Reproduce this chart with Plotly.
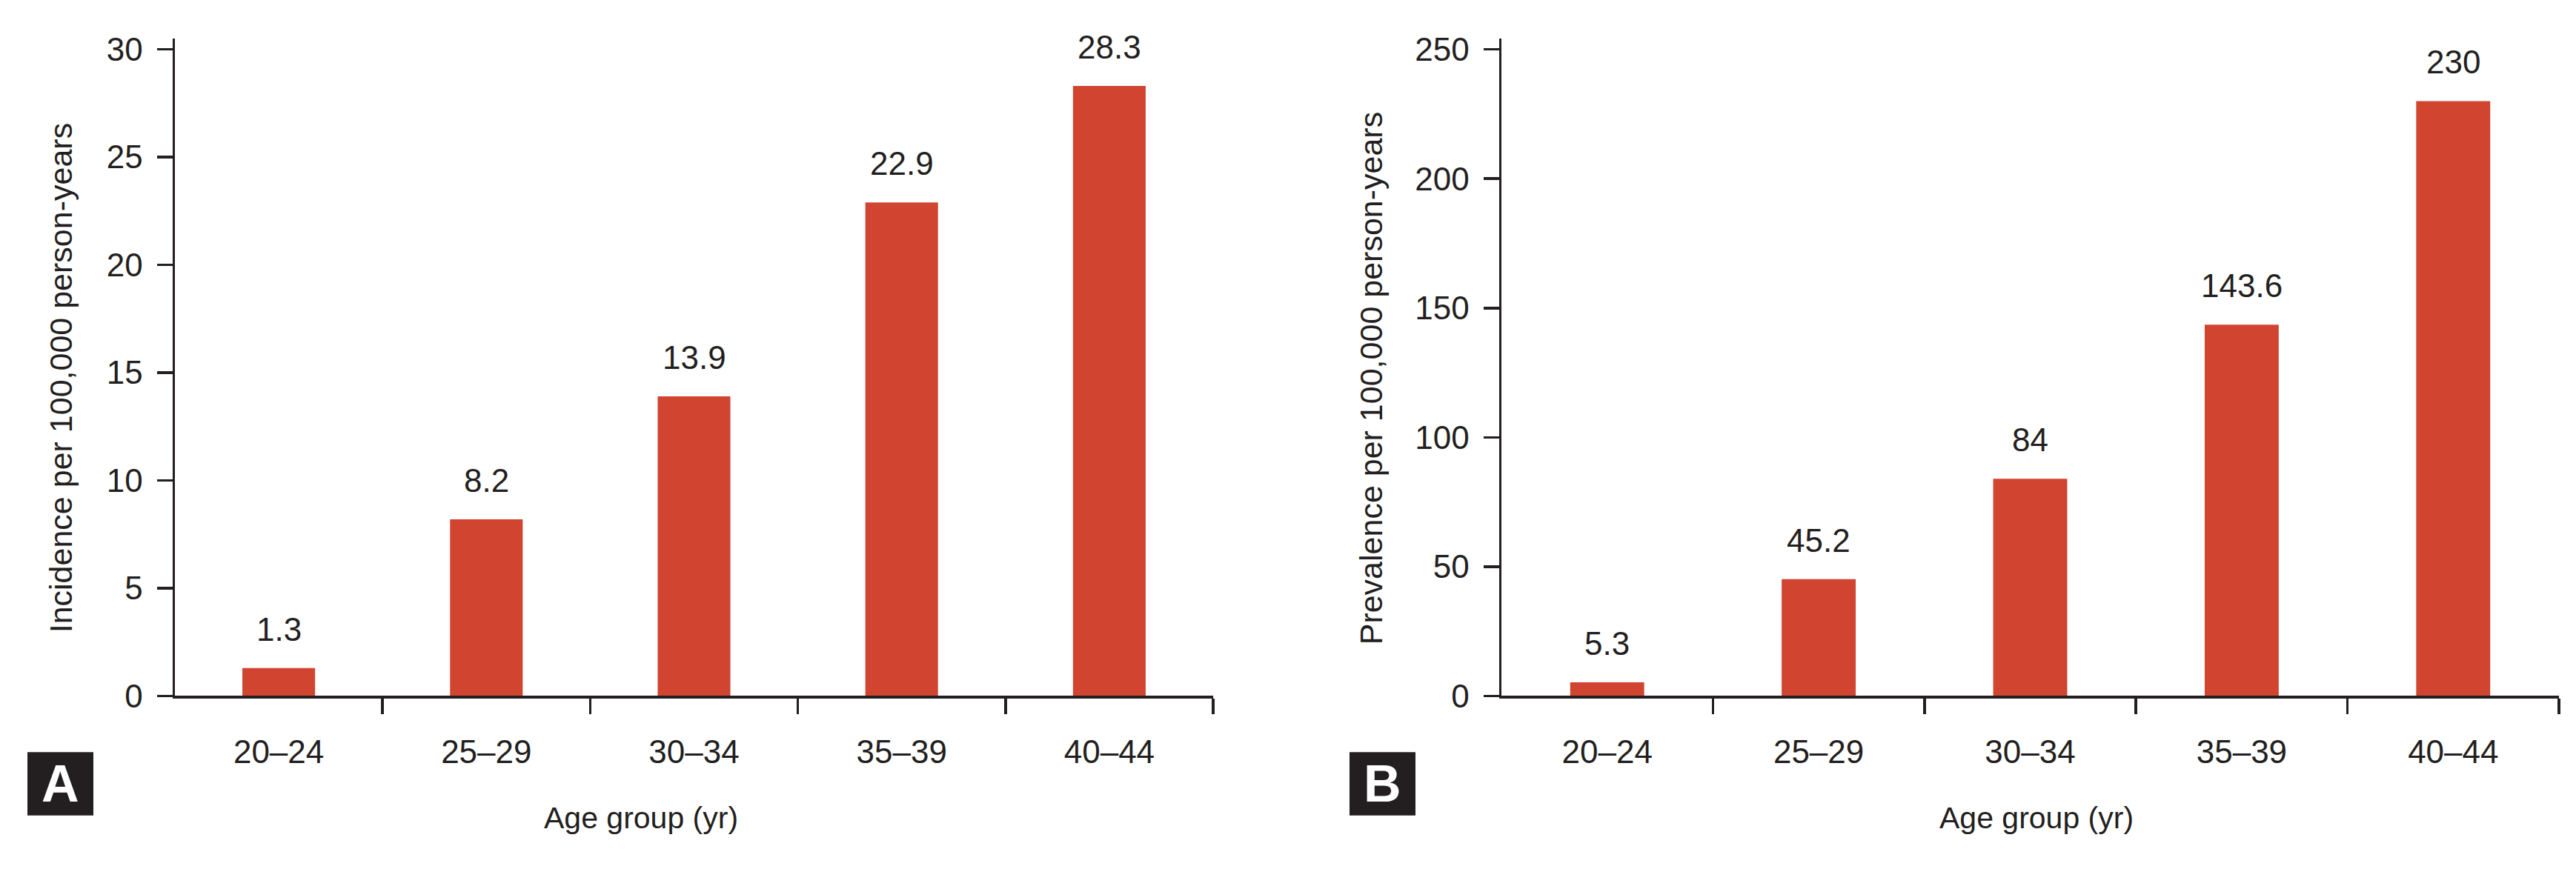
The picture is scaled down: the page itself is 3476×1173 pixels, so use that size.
import plotly.graph_objects as go

# ---- data ----
age_groups = ["20\u201324", "25\u201329", "30\u201334", "35\u201339", "40\u201344"]
incidence = [1.3, 8.2, 13.9, 22.9, 28.3]
prevalence = [5.3, 45.2, 84, 143.6, 230]
inc_ticks = [0, 5, 10, 15, 20, 25, 30]
prev_ticks = [0, 50, 100, 150, 200, 250]
inc_title = "Incidence per 100,000 person-years"
prev_title = "Prevalence per 100,000 person-years"
x_title = "Age group (yr)"
panel_letters = ["A", "B"]

# ---- style ----
W, H = 3476, 1173
BAR = "#D04430"
INK = "#231F20"
TICKFONT = dict(family="Liberation Sans, Arial, sans-serif", size=44, color=INK)
YTITLEFONT = dict(family="Liberation Sans, Arial, sans-serif", size=43, color=INK)
XTITLEFONT = dict(family="Liberation Sans, Arial, sans-serif", size=41, color=INK)
LW = 3.5

xpos = list(range(len(age_groups)))
boundaries = [i + 0.5 for i in xpos]

fig = go.Figure()
fig.add_trace(go.Bar(x=xpos, y=incidence, width=0.35, marker=dict(color=BAR, line=dict(width=0)),
                     xaxis="x", yaxis="y", hoverinfo="skip"))
fig.add_trace(go.Bar(x=xpos, y=prevalence, width=0.35, marker=dict(color=BAR, line=dict(width=0)),
                     xaxis="x2", yaxis="y2", hoverinfo="skip"))

def px_x(p):
    return p / W

def px_y(p):
    return 1 - p / H

ydom = [px_y(949), px_y(35)]

def xaxis_cfg(domain, anchor):
    return dict(domain=domain, anchor=anchor, range=[-0.5, 4.5], showgrid=False, zeroline=False,
                showline=True, linewidth=LW, linecolor=INK,
                tickmode="array", tickvals=xpos, ticktext=age_groups,
                ticks="outside", ticklen=34, tickcolor="rgba(0,0,0,0)", tickfont=TICKFONT,
                minor=dict(tickmode="array", tickvals=boundaries, ticks="outside", ticklen=21,
                           tickwidth=LW, tickcolor=INK, showgrid=False),
                fixedrange=True)

def yaxis_cfg(domain, anchor, rng, ticks):
    return dict(domain=domain, anchor=anchor, range=rng, showgrid=False, zeroline=False,
                showline=True, linewidth=LW, linecolor=INK,
                tickmode="array", tickvals=ticks, ticks="outside", ticklen=21, tickwidth=LW,
                tickcolor=INK, tickfont=TICKFONT, ticklabelstandoff=10, fixedrange=True)

fig.update_layout(
    width=W, height=H,
    margin=dict(l=0, r=0, t=0, b=0),
    paper_bgcolor="white", plot_bgcolor="white",
    showlegend=False,
    xaxis=xaxis_cfg([px_x(228), px_x(1629)], "y"),
    yaxis=yaxis_cfg(ydom, "x", [0, 30.5], inc_ticks),
    xaxis2=xaxis_cfg([px_x(2018), px_x(3445)], "y2"),
    yaxis2=yaxis_cfg(ydom, "x2", [0, 254.2], prev_ticks),
)

annotations = []
# value labels
for xa, ya, vals in (("x", "y", incidence), ("x2", "y2", prevalence)):
    for xi, v in zip(xpos, vals):
        annotations.append(dict(x=xi, y=v, xref=xa, yref=ya, text=f"{v:g}", showarrow=False,
                                yanchor="bottom", yshift=26, font=TICKFONT))

# y-axis titles
for cx, txt in ((74, inc_title), (1842, prev_title)):
    annotations.append(dict(x=px_x(cx), y=px_y(507), xref="paper", yref="paper", text=txt,
                            textangle=-90, showarrow=False, xanchor="center", yanchor="middle",
                            font=YTITLEFONT))
# x-axis titles
for cx in (857, 2740):
    annotations.append(dict(x=px_x(cx), y=px_y(1118), xref="paper", yref="paper", text=x_title,
                            showarrow=False, xanchor="center", yanchor="middle", font=XTITLEFONT))

# panel letters
shapes = []
for (x0, x1), letter in zip(((29, 118), (1813, 1902)), panel_letters):
    shapes.append(dict(type="rect", xref="paper", yref="paper", x0=px_x(x0), x1=px_x(x1),
                       y0=px_y(1115), y1=px_y(1027), fillcolor=INK, line=dict(width=0), layer="above"))
    annotations.append(dict(x=px_x((x0 + x1) / 2), y=px_y(1071), xref="paper", yref="paper",
                            text=f"<b>{letter}</b>", showarrow=False, xanchor="center", yanchor="middle",
                            font=dict(family="Liberation Sans, Arial, sans-serif", size=70, color="white")))

fig.update_layout(annotations=annotations, shapes=shapes)
fig.write_html("out.html", config=dict(displayModeBar=False, staticPlot=True))
